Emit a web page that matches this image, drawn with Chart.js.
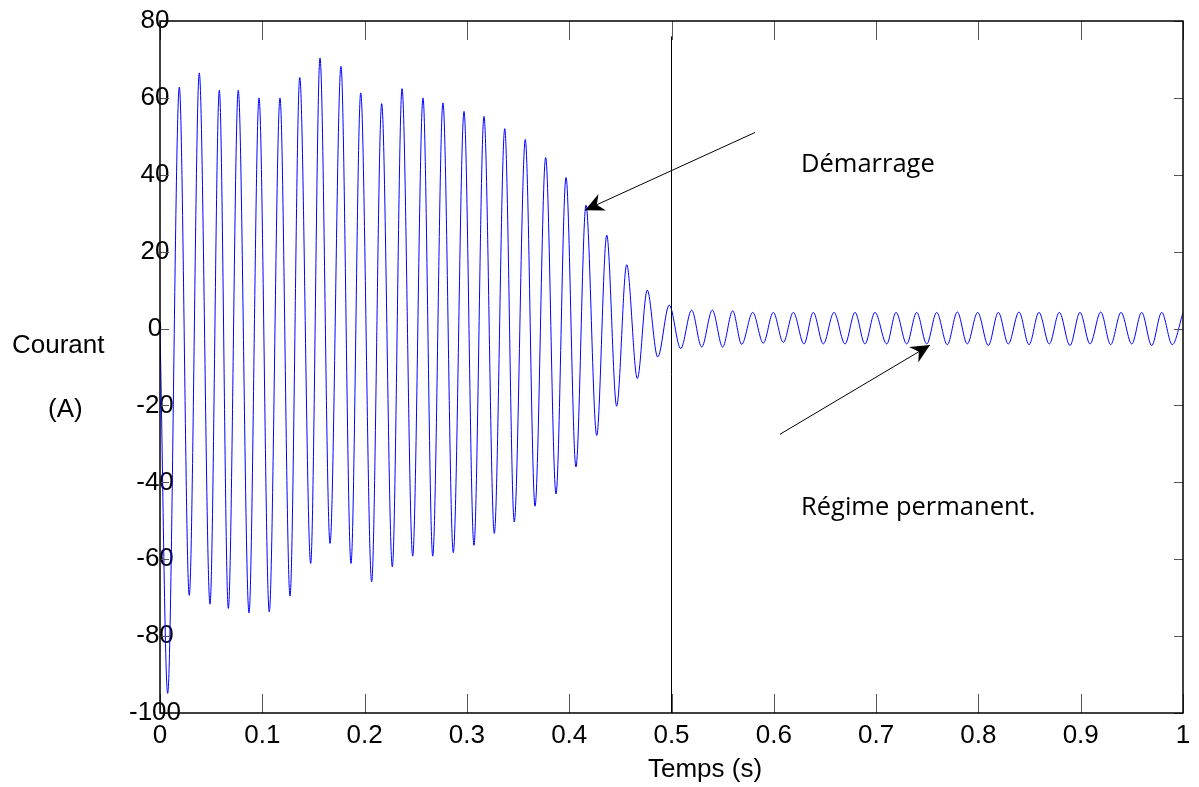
<!DOCTYPE html>
<html>
<head>
<meta charset="utf-8">
<script src="https://cdn.jsdelivr.net/npm/chart.js@4.4.0/dist/chart.umd.min.js"></script>
<style>
	html, body { margin: 0; background: #fff; }
	#wrap { width: 1199px; height: 787px; }
</style>
</head>
<body>
<div id="wrap"><canvas id="chart" width="1199" height="787"></canvas></div>
<script>
// current extrema, start-up part (s / A)
const transientTimes = [
	0, 0.0075, 0.0189, 0.0286, 0.0384, 0.0489, 0.0580, 0.0668, 0.0765, 0.0870,
	0.0968, 0.1068, 0.1173, 0.1271, 0.1366, 0.1473, 0.1564, 0.1662, 0.1769, 0.1867,
	0.1962, 0.2069, 0.2167, 0.2271, 0.2366, 0.2470, 0.2571, 0.2666, 0.2766, 0.2867,
	0.2972, 0.3069, 0.3167, 0.3268, 0.3370, 0.3463, 0.3571, 0.3666, 0.3770, 0.3871,
	0.3969, 0.4066, 0.4164, 0.4269, 0.4367, 0.4464, 0.4562, 0.4666, 0.4763, 0.4865,
	0.4978, 0.5090, 0.5197
];
const transientCurrent = [
	0, -94.9, 62.8, -69.4, 66.5, -71.7, 62.0, -72.8, 62.0, -74.0,
	60.0, -73.7, 60.0, -69.6, 65.3, -61.1, 70.4, -55.9, 68.2, -61.1,
	61.3, -65.9, 58.5, -62.0, 62.4, -59.2, 60.0, -59.2, 58.7, -58.3,
	56.5, -56.4, 55.2, -53.3, 52.0, -50.3, 49.2, -46.2, 44.5, -43.0,
	39.3, -36.0, 32.1, -27.8, 24.3, -20.2, 16.6, -13.0, 10.0, -7.4,
	6.1, -5.2, 4.8
];

// steady state (régime permanent)
const steadyTimes = [
	0.5295, 0.5399, 0.5500, 0.5598, 0.5686, 0.5794, 0.5897, 0.5995, 0.6093, 0.6191,
	0.6295, 0.6386, 0.6484, 0.6588, 0.6696, 0.6794, 0.6891, 0.6989, 0.7104, 0.7195,
	0.7299, 0.7397, 0.7495, 0.7592, 0.7696, 0.7794, 0.7891, 0.7993, 0.8097, 0.8195,
	0.8292, 0.8397, 0.8495, 0.8592, 0.8693, 0.8791, 0.8895, 0.8993, 0.9091, 0.9196,
	0.9293, 0.9394, 0.9499, 0.9596, 0.9694, 0.9792, 0.9895, 1.0
];
const steadyCurrent = [
	-4.8, 4.8, -4.8, 4.6, -4.1, 4.2, -3.8, 4.2, -3.6, 4.2,
	-4.0, 4.2, -4.0, 4.2, -4.0, 4.2, -4.0, 4.2, -4.0, 4.2,
	-4.0, 4.2, -4.0, 4.2, -4.2, 4.3, -4.0, 4.2, -4.4, 4.2,
	-4.0, 4.3, -4.2, 4.2, -4.0, 4.2, -4.4, 4.2, -4.0, 4.3,
	-4.2, 4.2, -4.0, 4.2, -4.4, 4.2, -4.2, 4.1
];

// vertical marker at t = 0.5 s
const markerTimes = [0.5, 0.5];
const markerCurrent = [-100, 76];

const yTickStep = 20;
const xTickStep = 0.1;

const allTimes = transientTimes.concat(steadyTimes);
const allCurrent = transientCurrent.concat(steadyCurrent);

// arrows and texts, in data units
const notes = [
	{ text: 'Démarrage', x: 0.6266, y: 42.5, from: [0.5816, 51.0], to: [0.4154, 30.8] },
	{ text: 'Régime permanent.', x: 0.6266, y: -46.5, from: [0.606, -27.5], to: [0.7527, -4.3] }
];

const tickFont = { family: 'Liberation Sans', size: 26 };

function drawArrow(ctx, x0, y0, x1, y1) {
	const a = Math.atan2(y1 - y0, x1 - x0);
	ctx.beginPath();
	ctx.moveTo(x0, y0);
	ctx.lineTo(x1, y1);
	ctx.stroke();
	const len = 19, half = 9, notch = 13;
	ctx.save();
	ctx.translate(x1, y1);
	ctx.rotate(a);
	ctx.beginPath();
	ctx.moveTo(0, 0);
	ctx.lineTo(-len, -half);
	ctx.lineTo(-notch, 0);
	ctx.lineTo(-len, half);
	ctx.closePath();
	ctx.fill();
	ctx.restore();
}

const framePlugin = {
	id: 'frame',
	afterDraw(chart) {
		const { ctx, chartArea: a, scales: { x, y } } = chart;
		ctx.save();
		// inward ticks on all four sides
		ctx.strokeStyle = '#555';
		ctx.lineWidth = 1;
		ctx.beginPath();
		x.ticks.forEach(t => {
			const px = Math.round(x.getPixelForValue(t.value)) + 0.5;
			ctx.moveTo(px, a.bottom); ctx.lineTo(px, a.bottom - 19);
			ctx.moveTo(px, a.top); ctx.lineTo(px, a.top + 19);
		});
		y.ticks.forEach(t => {
			const py = Math.round(y.getPixelForValue(t.value)) + 0.5;
			ctx.moveTo(a.left, py); ctx.lineTo(a.left + 9, py);
			ctx.moveTo(a.right, py); ctx.lineTo(a.right - 9, py);
		});
		ctx.stroke();
		// box
		ctx.strokeStyle = '#000';
		ctx.lineWidth = 1.5;
		ctx.strokeRect(a.left, a.top, a.right - a.left, a.bottom - a.top);

		// axis titles
		ctx.fillStyle = '#000';
		ctx.font = '26px "Liberation Sans"';
		ctx.textBaseline = 'middle';
		ctx.textAlign = 'left';
		ctx.fillText('Courant', 12, 346);
		ctx.fillText('(A)', 48, 410);
		ctx.textAlign = 'center';
		ctx.fillText('Temps (s)', 705, 770);

		// annotations
		ctx.lineWidth = 1;
		ctx.strokeStyle = '#000';
		ctx.font = '25.5px "Open Sans"';
		ctx.textAlign = 'left';
		notes.forEach(n => {
			drawArrow(ctx,
				x.getPixelForValue(n.from[0]), y.getPixelForValue(n.from[1]),
				x.getPixelForValue(n.to[0]), y.getPixelForValue(n.to[1]));
			ctx.fillText(n.text, x.getPixelForValue(n.x), y.getPixelForValue(n.y));
		});
		ctx.restore();
	}
};

function main() {
	const ctx = document.getElementById('chart');
	new Chart(ctx, {
		type: 'line',
		data: {
			datasets: [
				{
					data: markerTimes.map((t, i) => ({ x: t, y: markerCurrent[i] })),
					borderColor: '#000',
					borderWidth: 1,
					pointRadius: 0
				},
				{
					data: allTimes.map((t, i) => ({ x: t, y: allCurrent[i] })),
					borderColor: '#0000ff',
					borderWidth: 1,
					pointRadius: 0,
					cubicInterpolationMode: 'monotone'
				}
			]
		},
		options: {
			responsive: false,
			animation: false,
			layout: { padding: { top: 21, right: 16, left: 0, bottom: 0 } },
			plugins: { legend: { display: false }, tooltip: { enabled: false } },
			scales: {
				x: {
					type: 'linear',
					min: 0,
					max: 1,
					grid: { display: false, drawTicks: false },
					border: { display: false },
					ticks: {
						stepSize: xTickStep,
						color: '#000',
						font: tickFont,
						padding: 7,
						maxRotation: 0,
						callback: v => String(+v.toFixed(1))
					},
					afterFit: s => { s.height = 74; }
				},
				y: {
					min: -100,
					max: 80,
					grid: { display: false, drawTicks: false },
					border: { display: false },
					ticks: {
						stepSize: yTickStep,
						color: '#000',
						font: tickFont,
						// mirrored so the labels are not clipped where they cross the axis line
						mirror: true,
						crossAlign: 'center',
						padding: -31
					},
					afterFit: s => { s.width = 160; }
				}
			}
		},
		plugins: [framePlugin]
	});
}

document.addEventListener('DOMContentLoaded', main);
</script>
</body>
</html>
